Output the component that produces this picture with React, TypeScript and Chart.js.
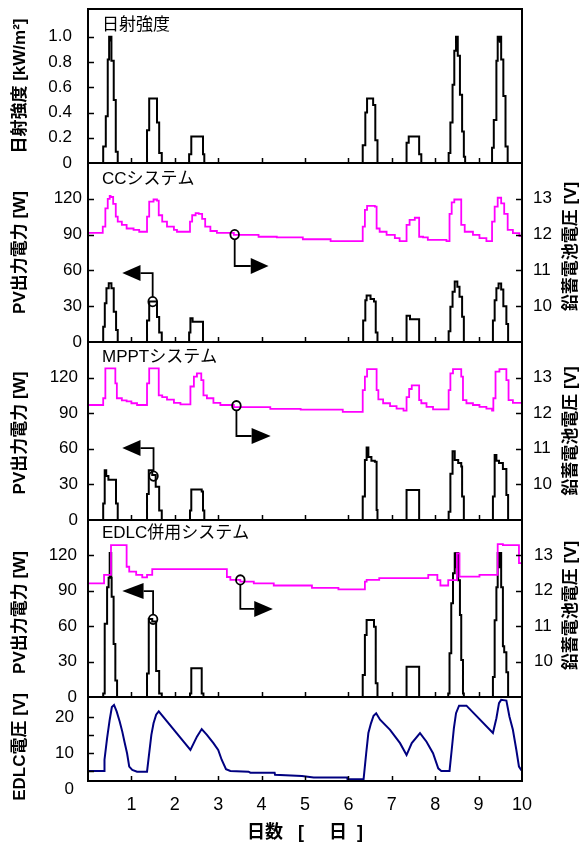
import React, { useEffect, useRef } from 'react';
import { Chart, registerables } from 'chart.js';

Chart.register(...registerables);

type Pair = [number, number];

// ---------------- data ----------------
const xTickDays = [1, 2, 3, 4, 5, 6, 7, 8, 9, 10];
const irradianceTicks = [0, 0.2, 0.4, 0.6, 0.8, 1.0];
const powerTicks = [0, 30, 60, 90, 120];
const batteryTicks = [10, 11, 12, 13];
const edlcTicks = [0, 10, 20];
const edlcTickMarks = [5, 10, 15, 20];

// 日射強度 [kW/m²]
const irradiance: Pair[] = [
  [0, 0], [0.35, 0.13], [0.41, 0.37], [0.455, 0.82], [0.487, 1.0], [0.5, 0.97], [0.51, 1.0], [0.52, 0.97], [0.53, 1.0], [0.54, 0.81], [0.593, 0.5], [0.64, 0.09], [0.685, 0],
  [1.36, 0.26], [1.41, 0.51], [1.59, 0.32], [1.64, 0.08], [1.7, 0],
  [2.33, 0.07], [2.38, 0.21], [2.65, 0.07], [2.68, 0],
  [6.33, 0.14], [6.39, 0.4], [6.43, 0.51], [6.57, 0.46], [6.62, 0.18], [6.67, 0],
  [7.34, 0.16], [7.39, 0.21], [7.63, 0.07], [7.68, 0],
  [8.31, 0.08], [8.35, 0.32], [8.4, 0.62], [8.44, 0.89], [8.48, 1.0], [8.52, 0.85], [8.57, 0.54], [8.62, 0.25], [8.66, 0.05], [8.69, 0],
  [9.31, 0.12], [9.35, 0.34], [9.41, 0.81], [9.44, 1.0], [9.46, 0.97], [9.47, 1.0], [9.49, 0.96], [9.5, 1.0], [9.52, 0.82], [9.57, 0.53], [9.62, 0.13], [9.67, 0], [10, 0],
];

// CCシステム
const ccPower: Pair[] = [
  [0, 0], [0.35, 12.8], [0.387, 32.4], [0.425, 45], [0.478, 49.2], [0.54, 45], [0.593, 25.4], [0.647, 10], [0.685, 0],
  [1.36, 18], [1.41, 34], [1.59, 21], [1.64, 8], [1.7, 0],
  [2.33, 8], [2.36, 20], [2.41, 17], [2.65, 0],
  [6.34, 18], [6.39, 35], [6.42, 39], [6.51, 36], [6.59, 34], [6.63, 8], [6.67, 0],
  [7.34, 22], [7.42, 19], [7.63, 0],
  [8.31, 9], [8.35, 29.6], [8.4, 42.2], [8.45, 50.6], [8.51, 46.4], [8.56, 38], [8.62, 21.2], [8.66, 0],
  [9.33, 18], [9.37, 35], [9.41, 45], [9.46, 49], [9.52, 44], [9.57, 30], [9.64, 15], [9.68, 0], [10, 0],
];
const ccBattery: Pair[] = [
  [0, 12.05], [0.34, 12.22], [0.4, 12.73], [0.455, 13.0], [0.5, 13.08], [0.52, 13.05], [0.58, 12.86], [0.64, 12.5], [0.685, 12.36], [0.78, 12.27], [0.89, 12.17], [1.05, 12.13], [1.18, 12.08],
  [1.36, 12.5], [1.41, 12.92], [1.51, 12.98], [1.59, 12.95], [1.63, 12.54], [1.71, 12.36], [1.82, 12.22], [1.98, 12.13], [2.05, 12.08],
  [2.35, 12.36], [2.4, 12.54], [2.48, 12.6], [2.55, 12.58], [2.63, 12.44], [2.7, 12.22], [2.82, 12.1], [2.97, 12.05], [3.36, 11.99], [3.93, 11.94], [4.35, 11.92], [4.95, 11.87], [5.59, 11.82],
  [6.33, 12.22], [6.38, 12.69], [6.43, 12.8], [6.61, 12.78], [6.65, 12.17], [6.72, 12.08], [6.88, 11.99], [7.07, 11.9], [7.18, 11.82],
  [7.34, 12.27], [7.41, 12.41], [7.53, 12.47], [7.63, 11.94], [7.72, 11.92], [7.83, 11.85], [8.26, 11.82],
  [8.33, 12.58], [8.38, 12.9], [8.44, 12.98], [8.6, 12.27], [8.68, 12.08], [8.87, 11.99], [9.02, 11.9], [9.18, 11.82],
  [9.31, 12.36], [9.37, 12.78], [9.44, 13.03], [9.52, 12.87], [9.59, 12.58], [9.67, 12.13], [9.79, 12.04], [9.94, 11.96], [10, 11.96],
];

// MPPTシステム
const mpptPower: Pair[] = [
  [0, 0], [0.35, 14], [0.385, 42], [0.42, 37], [0.47, 34], [0.645, 14], [0.685, 0],
  [1.36, 22], [1.4, 42], [1.48, 38], [1.56, 28], [1.64, 8], [1.7, 0],
  [2.35, 8], [2.38, 25.8], [2.62, 24], [2.65, 8], [2.68, 0],
  [6.33, 19.7], [6.38, 50.5], [6.42, 61], [6.46, 53], [6.53, 50], [6.61, 49], [6.65, 8.4], [6.67, 0],
  [7.34, 25.3], [7.63, 0],
  [8.31, 7], [8.35, 39], [8.4, 58], [8.45, 50.5], [8.53, 48], [8.6, 45], [8.62, 19.7], [8.66, 0],
  [9.33, 19.7], [9.37, 54.7], [9.41, 50], [9.47, 48], [9.56, 43], [9.64, 21], [9.68, 0], [10, 0],
];
const mpptBattery: Pair[] = [
  [0, 12.23], [0.35, 12.42], [0.4, 13.26], [0.63, 12.84], [0.665, 12.42], [0.78, 12.36], [0.89, 12.33], [1.0, 12.28], [1.13, 12.23],
  [1.36, 12.84], [1.41, 13.26], [1.63, 12.5], [1.71, 12.45], [1.82, 12.38], [1.98, 12.29], [2.13, 12.25],
  [2.36, 12.75], [2.44, 13.03], [2.51, 13.12], [2.61, 12.93], [2.66, 12.5], [2.74, 12.42], [2.89, 12.29], [3.05, 12.23], [3.36, 12.17], [4.2, 12.12], [4.9, 12.1], [5.87, 12.04],
  [6.33, 12.65], [6.38, 13.03], [6.43, 13.24], [6.65, 12.65], [6.69, 12.39], [6.8, 12.28], [6.96, 12.2], [7.11, 12.13], [7.27, 12.07],
  [7.34, 12.45], [7.4, 12.68], [7.46, 12.78], [7.63, 12.37], [7.68, 12.28], [7.8, 12.18], [7.95, 12.11],
  [8.31, 12.65], [8.35, 13.12], [8.41, 13.24], [8.6, 13.03], [8.64, 12.37], [8.72, 12.28], [8.87, 12.23], [9.02, 12.18], [9.18, 12.13], [9.31, 12.07],
  [9.34, 12.42], [9.39, 13.17], [9.48, 13.24], [9.64, 12.93], [9.69, 12.37], [9.79, 12.29], [10, 12.29],
];

// EDLC併用システム
const edlcPower: Pair[] = [
  [0, 0], [0.35, 3], [0.385, 62], [0.44, 93], [0.475, 101], [0.5, 122], [0.515, 105], [0.525, 122], [0.535, 101], [0.545, 85], [0.59, 45], [0.63, 14], [0.67, 0],
  [1.36, 20], [1.4, 66], [1.48, 64], [1.57, 22], [1.64, 3], [1.7, 0],
  [2.35, 3], [2.38, 24.3], [2.62, 3], [2.66, 0],
  [6.33, 18.6], [6.38, 52.5], [6.42, 65.3], [6.59, 59.6], [6.63, 11.6], [6.67, 0],
  [7.34, 25.7], [7.63, 0],
  [8.3, 3], [8.33, 37], [8.37, 79.4], [8.41, 104.8], [8.45, 121.8], [8.47, 110], [8.49, 122], [8.53, 99], [8.57, 69.5], [8.6, 31.4], [8.64, 3], [8.66, 0],
  [9.33, 17], [9.37, 65], [9.41, 93], [9.44, 122], [9.47, 110], [9.49, 122], [9.52, 93], [9.56, 43], [9.59, 38], [9.64, 21], [9.68, 0], [10, 0],
];
const edlcBattery: Pair[] = [
  [0, 12.21], [0.37, 12.45], [0.53, 13.29], [0.89, 12.68], [0.95, 12.54], [1.11, 12.45], [1.25, 12.38], [1.36, 12.45], [1.48, 12.61],
  [3.17, 12.61], [3.2, 12.39], [3.28, 12.31], [3.51, 12.26], [3.82, 12.21], [4.28, 12.15], [5.16, 12.08], [5.77, 12.04],
  [6.38, 12.26], [6.42, 12.31], [6.71, 12.36], [7.84, 12.45], [8.05, 12.3], [8.12, 12.15], [8.3, 12.3], [8.5, 13.06], [8.56, 12.4],
  [9.02, 12.45], [9.44, 13.32], [9.56, 13.29], [9.93, 12.78], [10, 12.78],
];

// EDLC電圧 [V]
const edlcVoltage: Pair[] = [
  [0, 5.0], [0.37, 5.0], [0.38, 8.1], [0.44, 14.1], [0.5, 19.2], [0.55, 22.7], [0.6, 23.3], [0.66, 21.5], [0.73, 18.7], [0.79, 15.9], [0.84, 13.1], [0.9, 9.9], [0.95, 6.2], [1.02, 5.3], [1.13, 4.8], [1.36, 4.8],
  [1.41, 9.9], [1.46, 15], [1.51, 18.2], [1.57, 20.6], [1.63, 21.5], [2.36, 10.8], [2.51, 14.5], [2.62, 16.6], [2.74, 15], [2.89, 12.7], [3.0, 10.8], [3.08, 8.1], [3.18, 5.5], [3.28, 5.0],
  [3.7, 4.8], [3.74, 4.5], [4.3, 4.5], [4.31, 3.9], [4.93, 3.6], [5.2, 3.2], [5.97, 3.2], [5.98, 2.7], [6.35, 2.7],
  [6.41, 9.9], [6.46, 15.5], [6.52, 18.2], [6.58, 20.3], [6.64, 21], [6.73, 19.2], [6.96, 16.4], [7.19, 12.7], [7.34, 9.4], [7.46, 12.7], [7.65, 15.5], [7.8, 13.1], [7.95, 9.9], [8.07, 5.7], [8.14, 5.0], [8.33, 5.0],
  [8.38, 10.8], [8.43, 16.8], [8.48, 21], [8.55, 23.1], [8.72, 23.1], [9.33, 15.5], [9.41, 19.6], [9.47, 23.8], [9.52, 24.7], [9.64, 24.5], [9.71, 20.1], [9.79, 16.4], [9.87, 10.8], [9.93, 6.2], [9.98, 5.3], [10, 5.0],
];

// pointer markers (data units: day, W on the left axis)
type Marker = { x: number; y: number; turnY: number; endX: number; tipX: number };
const ccMarkers: Marker[] = [
  { x: 1.49, y: 33.8, turnY: 57.8, endX: 1.21, tipX: 0.79 },
  { x: 3.38, y: 90, turnY: 63.7, endX: 3.75, tipX: 4.16 },
];
const mpptMarkers: Marker[] = [
  { x: 1.51, y: 37, turnY: 60.6, endX: 1.21, tipX: 0.79 },
  { x: 3.42, y: 96.3, turnY: 70.8, endX: 3.77, tipX: 4.21 },
];
const edlcMarkers: Marker[] = [
  { x: 1.5, y: 65.8, turnY: 89.8, endX: 1.28, tipX: 0.79 },
  { x: 3.51, y: 99.2, turnY: 74.6, endX: 3.83, tipX: 4.26 },
];

// ---------------- layout / style ----------------
const W = 581;
const H = 845;
const LEFT_AXIS_W = 88;
const RIGHT_AXIS_W = 59;
const PAD = 20;
const LATIN = '"Liberation Sans", Arial, sans-serif';
const MIXED = '"Liberation Sans", "Noto Sans CJK JP", sans-serif';
const BLACK = '#000000';
const MAGENTA = '#ff00ff';
const NAVY = '#000080';

type Series = { data: Pair[]; color: string; width: number; stepped: boolean; axis: 'y' | 'y1' };
type Panel = {
  top: number;
  bottom: number;
  title: string;
  titleDy: number;
  leftTitle: string;
  leftTitleDy: number;
  rightTitle?: string;
  rightTitleDy?: number;
  left: { min: number; max: number; ticks: number[]; marks: number[]; pad: number; fmt: (v: number) => string; custom?: boolean };
  right?: { min: number; max: number; ticks: number[]; pad: number };
  series: Series[];
  markers: Marker[];
  last?: boolean;
};

const fmtInt = (v: number) => String(v);
const fmt1 = (v: number) => (v === 0 ? '0' : v.toFixed(1));

const panels: Panel[] = [
  {
    top: 9, bottom: 163, title: '日射強度', titleDy: 16,
    leftTitle: '日射強度 [kW/m²]', leftTitleDy: 0,
    left: { min: 0, max: 1.22, ticks: irradianceTicks, marks: [0.2, 0.4, 0.6, 0.8, 1.0], pad: 16, fmt: fmt1 },
    series: [{ data: irradiance, color: BLACK, width: 2, stepped: true, axis: 'y' }],
    markers: [],
  },
  {
    top: 163, bottom: 342, title: 'CCシステム', titleDy: 16.5,
    leftTitle: 'PV出力電力 [W]', leftTitleDy: 0, rightTitle: '鉛蓄電池電圧 [V]', rightTitleDy: -6,
    left: { min: 0, max: 150, ticks: powerTicks, marks: [30, 60, 90, 120], pad: 6, fmt: fmtInt },
    right: { min: 9, max: 14, ticks: batteryTicks, pad: 11 },
    series: [
      { data: ccBattery, color: MAGENTA, width: 1.8, stepped: true, axis: 'y1' },
      { data: ccPower, color: BLACK, width: 2, stepped: true, axis: 'y' },
    ],
    markers: ccMarkers,
  },
  {
    top: 342, bottom: 520, title: 'MPPTシステム', titleDy: 15,
    leftTitle: 'PV出力電力 [W]', leftTitleDy: 2, rightTitle: '鉛蓄電池電圧 [V]', rightTitleDy: 0,
    left: { min: 0, max: 150, ticks: powerTicks, marks: [30, 60, 90, 120], pad: 10, fmt: fmtInt },
    right: { min: 9, max: 14, ticks: batteryTicks, pad: 11 },
    series: [
      { data: mpptBattery, color: MAGENTA, width: 1.8, stepped: true, axis: 'y1' },
      { data: mpptPower, color: BLACK, width: 2, stepped: true, axis: 'y' },
    ],
    markers: mpptMarkers,
  },
  {
    top: 520, bottom: 697, title: 'EDLC併用システム', titleDy: 13,
    leftTitle: 'PV出力電力 [W]', leftTitleDy: 4, rightTitle: '鉛蓄電池電圧 [V]', rightTitleDy: -3,
    left: { min: 0, max: 150, ticks: powerTicks, marks: [30, 60, 90, 120], pad: 11, fmt: fmtInt },
    right: { min: 9, max: 14, ticks: batteryTicks, pad: 12 },
    series: [
      { data: edlcBattery, color: MAGENTA, width: 1.8, stepped: true, axis: 'y1' },
      { data: edlcPower, color: BLACK, width: 2, stepped: true, axis: 'y' },
    ],
    markers: edlcMarkers,
  },
  {
    top: 697, bottom: 781, title: '', titleDy: 0,
    leftTitle: 'EDLC電圧 [V]', leftTitleDy: 8,
    left: { min: 2.2, max: 25.5, ticks: edlcTicks, marks: edlcTickMarks, pad: 14, fmt: fmtInt, custom: true },
    series: [{ data: edlcVoltage, color: NAVY, width: 2, stepped: false, axis: 'y' }],
    markers: [],
    last: true,
  },
];

function overlayPlugin(p: Panel) {
  return {
    id: 'panelOverlay',
    afterDraw(chart: any) {
      const { ctx, chartArea: a, scales } = chart;
      const xs = scales.x;
      const ys = scales.y;
      const yr = scales.y1;
      ctx.save();
      ctx.strokeStyle = BLACK;
      ctx.fillStyle = BLACK;

      // inward tick marks
      ctx.lineWidth = 1.5;
      ctx.beginPath();
      for (const d of xTickDays) {
        if (d >= 10) continue;
        const px = Math.round(xs.getPixelForValue(d)) + 0.5;
        ctx.moveTo(px, a.bottom);
        ctx.lineTo(px, a.bottom - 5);
      }
      for (const v of p.left.marks) {
        const py = Math.round(ys.getPixelForValue(v)) + 0.5;
        ctx.moveTo(a.left, py);
        ctx.lineTo(a.left + 6, py);
      }
      if (yr && p.right) {
        for (const v of p.right.ticks) {
          const py = Math.round(yr.getPixelForValue(v)) + 0.5;
          ctx.moveTo(a.right, py);
          ctx.lineTo(a.right - 6, py);
        }
      }
      ctx.stroke();

      // frame
      ctx.lineWidth = 2;
      ctx.strokeRect(a.left, a.top, a.right - a.left, a.bottom - a.top);

      // pointer markers
      for (const m of p.markers) {
        const cx = xs.getPixelForValue(m.x);
        const cy = ys.getPixelForValue(m.y);
        const ty = ys.getPixelForValue(m.turnY);
        const ex = xs.getPixelForValue(m.endX);
        const tx = xs.getPixelForValue(m.tipX);
        const r = 4.3;
        ctx.lineWidth = 1.8;
        ctx.beginPath();
        ctx.ellipse(cx, cy, r, r + 0.4, 0, 0, Math.PI * 2);
        ctx.stroke();
        const sy = ty < cy ? cy - r : cy + r;
        ctx.beginPath();
        ctx.moveTo(cx, sy);
        ctx.lineTo(cx, ty);
        ctx.lineTo(ex, ty);
        ctx.stroke();
        ctx.beginPath();
        ctx.moveTo(ex, ty - 8);
        ctx.lineTo(tx, ty);
        ctx.lineTo(ex, ty + 8);
        ctx.closePath();
        ctx.fill();
      }

      // inner title
      if (p.title) {
        ctx.font = `17px ${MIXED}`;
        ctx.textAlign = 'left';
        ctx.textBaseline = 'middle';
        ctx.fillText(p.title, a.left + 14, a.top + p.titleDy);
      }

      const midY = (a.top + a.bottom) / 2;
      // axis titles (rotated, reading upward)
      ctx.font = `bold 17px ${MIXED}`;
      ctx.textAlign = 'center';
      ctx.textBaseline = 'middle';
      ctx.save();
      ctx.translate(20, midY + p.leftTitleDy);
      ctx.rotate(-Math.PI / 2);
      ctx.fillText(p.leftTitle, 0, 0);
      ctx.restore();
      if (p.rightTitle) {
        ctx.save();
        ctx.translate(571, midY + (p.rightTitleDy || 0));
        ctx.rotate(-Math.PI / 2);
        ctx.fillText(p.rightTitle, 0, 0);
        ctx.restore();
      }

      // custom tick labels (EDLC panel)
      if (p.left.custom) {
        ctx.font = `17px ${LATIN}`;
        ctx.textAlign = 'right';
        ctx.textBaseline = 'middle';
        for (const v of p.left.ticks) {
          ctx.fillText(p.left.fmt(v), a.left - p.left.pad, ys.getPixelForValue(v));
        }
      }

      // x axis title
      if (p.last) {
        ctx.font = `bold 18px ${MIXED}`;
        ctx.textAlign = 'center';
        ctx.textBaseline = 'middle';
        ctx.fillText('日数   [     日  ]', (a.left + a.right) / 2, 833 - (p.top - PAD));
      }
      ctx.restore();
    },
  };
}

function PanelChart({ p }: { p: Panel }) {
  const ref = useRef<HTMLCanvasElement>(null);
  const canvasTop = p.top - PAD;
  const xHeight = p.last ? H - p.bottom : 0;
  const canvasH = p.last ? H - canvasTop : p.bottom - p.top + 2 * PAD;

  useEffect(() => {
    const canvas = ref.current;
    if (!canvas) return;
    const scales: any = {
      x: {
        type: 'linear',
        min: 0,
        max: 10,
        display: !!p.last,
        position: 'bottom',
        grid: { display: false, drawTicks: false },
        border: { display: false },
        afterBuildTicks: (s: any) => {
          s.ticks = xTickDays.map((v) => ({ value: v }));
        },
        ticks: {
          autoSkip: false,
          maxRotation: 0,
          padding: 13,
          color: BLACK,
          font: { family: LATIN, size: 18 },
          callback: (v: number) => String(v),
        },
        afterFit: (s: any) => {
          if (p.last) {
            s.height = xHeight;
            s.paddingLeft = 0;
            s.paddingRight = 0;
          }
        },
      },
      y: {
        type: 'linear',
        position: 'left',
        min: p.left.min,
        max: p.left.max,
        grid: { display: false, drawTicks: false },
        border: { display: false },
        afterBuildTicks: (s: any) => {
          s.ticks = p.left.ticks.filter((v) => v >= p.left.min && v <= p.left.max).map((v) => ({ value: v }));
        },
        ticks: {
          display: !p.left.custom,
          autoSkip: false,
          padding: p.left.pad,
          color: BLACK,
          font: { family: LATIN, size: 17 },
          callback: (v: number) => p.left.fmt(v),
        },
        afterFit: (s: any) => {
          s.width = LEFT_AXIS_W;
          s.paddingTop = 0;
          s.paddingBottom = 0;
        },
      },
    };
    if (p.right) {
      const r = p.right;
      scales.y1 = {
        type: 'linear',
        position: 'right',
        min: r.min,
        max: r.max,
        grid: { display: false, drawTicks: false },
        border: { display: false },
        afterBuildTicks: (s: any) => {
          s.ticks = r.ticks.map((v) => ({ value: v }));
        },
        ticks: {
          autoSkip: false,
          padding: r.pad,
          color: BLACK,
          font: { family: LATIN, size: 17 },
          callback: (v: number) => String(v),
        },
        afterFit: (s: any) => {
          s.width = RIGHT_AXIS_W;
          s.paddingTop = 0;
          s.paddingBottom = 0;
        },
      };
    }

    const chart = new Chart(canvas, {
      type: 'line',
      data: {
        datasets: p.series.map((s) => ({
          data: s.data.map(([x, y]) => ({ x, y })),
          borderColor: s.color,
          backgroundColor: s.color,
          borderWidth: s.width,
          stepped: s.stepped,
          tension: 0,
          pointRadius: 0,
          fill: false,
          yAxisID: s.axis,
          borderJoinStyle: 'miter',
        })),
      },
      options: {
        responsive: false,
        animation: false,
        devicePixelRatio: 1,
        events: [],
        layout: {
          padding: { top: PAD, bottom: p.last ? 0 : PAD, left: 0, right: p.right ? 0 : RIGHT_AXIS_W },
        },
        plugins: { legend: { display: false }, tooltip: { enabled: false }, title: { display: false } },
        scales,
      } as any,
      plugins: [overlayPlugin(p)],
    });
    return () => chart.destroy();
  }, [p]);

  return (
    <canvas
      ref={ref}
      width={W}
      height={canvasH}
      style={{ position: 'absolute', left: 0, top: canvasTop, width: W, height: canvasH }}
    />
  );
}

export default function App() {
  return (
    <div style={{ position: 'absolute', left: 0, top: 0, width: W, height: H, background: '#ffffff', overflow: 'hidden' }}>
      {panels.map((p, i) => (
        <PanelChart key={i} p={p} />
      ))}
    </div>
  );
}
